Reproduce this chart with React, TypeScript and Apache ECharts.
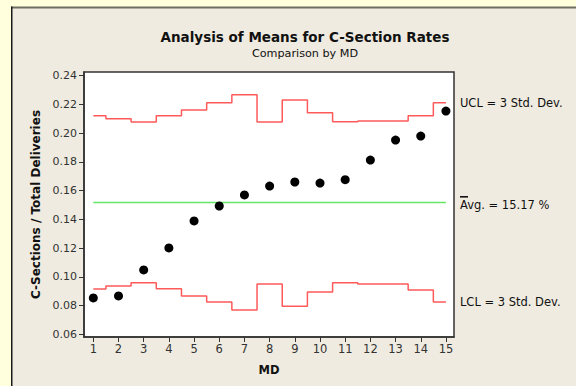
import React, { useEffect, useRef } from "react";
import * as echarts from "echarts";

const mds = [1, 2, 3, 4, 5, 6, 7, 8, 9, 10, 11, 12, 13, 14, 15];
const rates = [0.0853, 0.0867, 0.1048, 0.1201, 0.1389, 0.1493, 0.157, 0.1632, 0.166, 0.1653, 0.1676, 0.1813, 0.1952, 0.198, 0.2154];
const ucl = [0.2122, 0.2101, 0.2078, 0.2122, 0.2161, 0.2212, 0.2268, 0.2078, 0.2231, 0.2143, 0.208, 0.2085, 0.2085, 0.2122, 0.2212];
const lcl = [0.0915, 0.0936, 0.0959, 0.0917, 0.0867, 0.0825, 0.0769, 0.095, 0.0795, 0.0894, 0.0959, 0.095, 0.095, 0.0908, 0.0825];
const avg = 0.1517;
const yTicks = [0.06, 0.08, 0.1, 0.12, 0.14, 0.16, 0.18, 0.2, 0.22, 0.24];

const FONT = "DejaVu Sans";

export default function App() {
  const ref = useRef<HTMLDivElement>(null);
  useEffect(() => {
    if (!ref.current) return;
    const chart = echarts.init(ref.current, null, { renderer: "svg" });
    const pair = (ys: number[]) => mds.map((x, i) => [x, ys[i]]);
    const endLbl = (text: string, dy: number) => ({
      show: true,
      formatter: text,
      distance: 14,
      color: "#111",
      fontSize: 11.5,
      fontFamily: FONT,
      offset: [0, dy],
    });
    chart.setOption({
      animation: false,
      backgroundColor: "#FFFFDD",
      textStyle: { fontFamily: FONT },
      graphic: [
        { type: "rect", z: -10, shape: { x: 11, y: 7, width: 600, height: 400 }, style: { fill: "#EFEBE0" } },
        { type: "rect", z: -9, shape: { x: 11, y: 6.5, width: 600, height: 2 }, style: { fill: "#6E6E62" } },
        { type: "rect", z: -9, shape: { x: 11, y: 6.5, width: 1.5, height: 400 }, style: { fill: "#1A1A1A" } },
        { type: "rect", z: 10, shape: { x: 460, y: 196, width: 8, height: 1.6 }, style: { fill: "#111" } },
      ],
      title: {
        text: "Analysis of Means for C-Section Rates",
        subtext: "Comparison by MD",
        left: 300,
        textAlign: "center",
        top: 25,
        itemGap: 4,
        textStyle: { fontFamily: FONT, fontSize: 13.5, fontWeight: "bold", color: "#111" },
        subtextStyle: { fontFamily: FONT, fontSize: 11.2, color: "#111" },
      },
      grid: {
        left: 84,
        top: 72,
        right: 122,
        bottom: 49,
        show: true,
        backgroundColor: "#FFFFFF",
        borderColor: "#333",
        borderWidth: 1.5,
      },
      xAxis: {
        type: "value",
        min: 0.63,
        max: 15.32,
        name: "MD",
        nameLocation: "middle",
        nameGap: 27,
        nameTextStyle: { fontFamily: FONT, fontSize: 11.5, fontWeight: "bold", color: "#111" },
        splitLine: { show: false },
        axisLine: { show: true, onZero: false, lineStyle: { color: "#333", width: 1.5 } },
        axisTick: { show: true, length: 5, lineStyle: { color: "#333" }, customValues: mds },
        axisLabel: { color: "#333", fontSize: 11.5, margin: 6, customValues: mds, formatter: (v: number) => String(v) },
      },
      yAxis: {
        type: "value",
        min: 0.0581,
        max: 0.2426,
        name: "C-Sections / Total Deliveries",
        nameLocation: "middle",
        nameGap: 41,
        nameTextStyle: { fontFamily: FONT, fontSize: 12, fontWeight: "bold", color: "#111" },
        splitLine: { show: false },
        axisLine: { show: true, lineStyle: { color: "#333", width: 1.5 } },
        axisTick: { show: true, length: 5, lineStyle: { color: "#333" }, customValues: yTicks },
        axisLabel: { color: "#333", fontSize: 11, margin: 7, customValues: yTicks, formatter: (v: number) => v.toFixed(2) },
      },
      series: [
        {
          type: "line",
          data: pair(ucl),
          step: "middle",
          symbol: "none",
          lineStyle: { color: "#FF5A5A", width: 1.5 },
          endLabel: endLbl("UCL = 3 Std. Dev.", 0),
        },
        {
          type: "line",
          data: pair(lcl),
          step: "middle",
          symbol: "none",
          lineStyle: { color: "#FF5A5A", width: 1.5 },
          endLabel: endLbl("LCL = 3 Std. Dev.", 0),
        },
        {
          type: "line",
          data: mds.map((x) => [x, avg]),
          symbol: "none",
          lineStyle: { color: "#66E866", width: 1.5 },
          endLabel: endLbl("Avg. = 15.17 %", 2),
        },
        {
          type: "scatter",
          data: pair(rates),
          symbol: "circle",
          symbolSize: 9,
          itemStyle: { color: "#000", opacity: 1 },
          z: 5,
        },
      ],
    });
    return () => chart.dispose();
  }, []);
  return <div ref={ref} style={{ position: "fixed", left: 0, top: 0, width: 576, height: 386 }} />;
}
